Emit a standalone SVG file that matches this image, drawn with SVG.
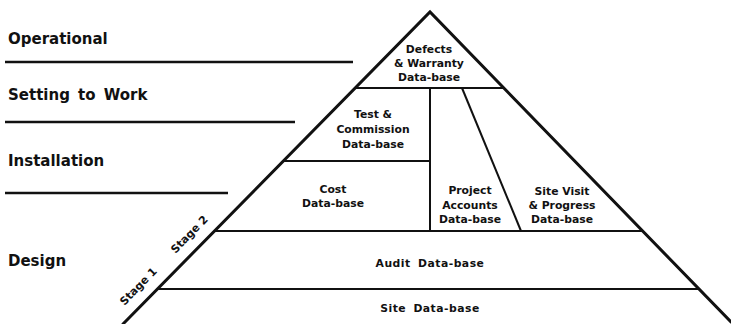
<svg xmlns="http://www.w3.org/2000/svg" width="731" height="324" viewBox="0 0 731 324">
<style>
text{font-family:"DejaVu Sans","Liberation Sans",sans-serif;font-weight:bold;fill:#111}
.lbl{font-size:15px}
.n{font-size:10.8px;text-anchor:middle}
.wide{letter-spacing:0.5px;word-spacing:3px}
.st{font-size:11px;text-anchor:middle}
.edge{stroke:#111;stroke-width:3;fill:none;stroke-linecap:round;stroke-linejoin:miter}
.div{stroke:#111;stroke-width:2;fill:none}
.band{stroke:#111;stroke-width:2.6;fill:none}
</style>
<rect width="731" height="324" fill="#fff"/>
<g id="phases">
<text class="lbl" x="8" y="44">Operational</text>
<text class="lbl" x="8" y="100" word-spacing="3">Setting to Work</text>
<text class="lbl" x="8" y="165.5">Installation</text>
<text class="lbl" x="8" y="265.5">Design</text>
<line class="band" x1="5" y1="62" x2="353" y2="62"/>
<line class="band" x1="5" y1="122" x2="295" y2="122"/>
<line class="band" x1="5" y1="193" x2="228" y2="193"/>
</g>
<g id="connectors">
<polyline class="edge" points="123,324 430,12 731,322"/>
<line class="div" x1="355" y1="88" x2="503" y2="88"/>
<line class="div" x1="283.5" y1="161" x2="430" y2="161"/>
<line class="div" x1="214.5" y1="231" x2="642" y2="231"/>
<line class="div" x1="157.5" y1="289" x2="698" y2="289"/>
<line class="div" x1="430" y1="88" x2="430" y2="231"/>
<line class="div" x1="462" y1="88" x2="521" y2="231"/>
</g>
<g id="defects">
<text class="n" x="429" y="53">Defects</text>
<text class="n" x="429" y="67">&amp; Warranty</text>
<text class="n" x="429" y="81">Data-base</text>
</g>
<g id="test">
<text class="n" x="373" y="118">Test &amp;</text>
<text class="n" x="373" y="133">Commission</text>
<text class="n" x="373" y="148">Data-base</text>
</g>
<g id="cost">
<text class="n" x="333" y="193">Cost</text>
<text class="n" x="333" y="207">Data-base</text>
</g>
<g id="project">
<text class="n" x="470" y="194">Project</text>
<text class="n" x="470" y="208.5">Accounts</text>
<text class="n" x="470" y="223">Data-base</text>
</g>
<g id="sitevisit">
<text class="n" x="562" y="194.5">Site Visit</text>
<text class="n" x="562" y="208.5">&amp; Progress</text>
<text class="n" x="562" y="223">Data-base</text>
</g>
<g id="audit">
<text class="n wide" x="430" y="267">Audit Data-base</text>
</g>
<g id="site">
<text class="n wide" x="430" y="312">Site Data-base</text>
</g>
<g id="stages">
<text class="st" transform="translate(192,237) rotate(-45.5)">Stage 2</text>
<text class="st" transform="translate(141,289) rotate(-45.5)">Stage 1</text>
</g>
</svg>
